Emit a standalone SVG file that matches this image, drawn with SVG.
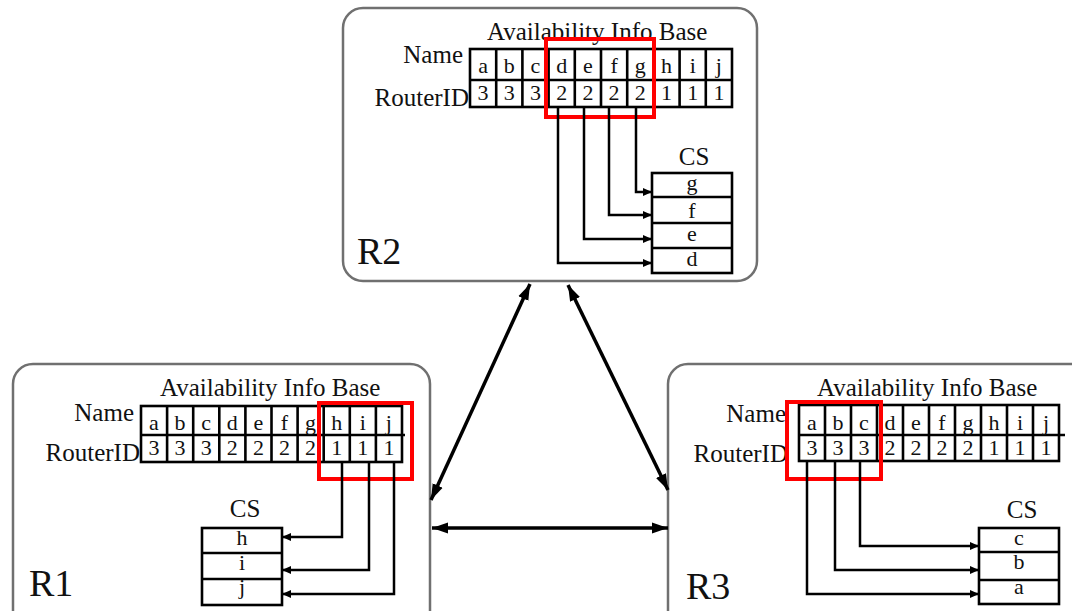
<svg xmlns="http://www.w3.org/2000/svg" width="1072" height="611" viewBox="0 0 1072 611">
  <style>
    text { font-family: "Liberation Serif", "Times New Roman", serif; fill: #111; }
    .t { font-size: 25px; }
    .c { font-size: 22px; text-anchor: middle; }
    .r { font-size: 25px; text-anchor: end; }
    .lbl { font-size: 38px; }
    .router { fill: #fff; stroke: #707070; stroke-width: 2.5; }
    .grid { fill: none; stroke: #000; stroke-width: 2.6; }
    .sel { fill: none; stroke: #ff0000; stroke-width: 4; }
    .wire { fill: none; stroke: #000; stroke-width: 2.5; marker-end: url(#tip); }
    .link { fill: none; stroke: #000; stroke-width: 3.5; marker-start: url(#bigtip); marker-end: url(#bigtip); }
  </style>
  <defs>
    <marker id="tip" markerUnits="userSpaceOnUse" markerWidth="10" markerHeight="10" refX="9" refY="5" orient="auto">
      <path d="M0,1 L9,5 L0,9 Z" fill="#000"/>
    </marker>
    <marker id="bigtip" markerUnits="userSpaceOnUse" markerWidth="17" markerHeight="12" refX="16" refY="6" orient="auto-start-reverse">
      <path d="M0,0.5 L16,6 L0,11.5 Z" fill="#000"/>
    </marker>
  </defs>
  <rect width="1072" height="611" fill="#fff"/>

  <!-- Router R2 -->
  <g id="R2">
    <rect class="router" x="343" y="8" width="414" height="273" rx="20"/>
    <text class="t" x="487" y="40">Availability Info Base</text>
    <text class="r" x="463" y="63">Name</text>
    <text class="r" x="469" y="106">RouterID</text>
    <rect class="grid" x="470" y="49" width="262" height="58"/>
    <path class="grid" d="M470,80 H732 M496.2,49 V107 M522.4,49 V107 M548.6,49 V107 M574.8,49 V107 M601,49 V107 M627.2,49 V107 M653.4,49 V107 M679.6,49 V107 M705.8,49 V107"/>
    <g class="c">
      <text x="483.1" y="73">a</text><text x="509.3" y="73">b</text><text x="535.5" y="73">c</text><text x="561.7" y="73">d</text><text x="587.9" y="73">e</text><text x="614.1" y="73">f</text><text x="640.3" y="73">g</text><text x="666.5" y="73">h</text><text x="692.7" y="73">i</text><text x="718.9" y="73">j</text>
      <text x="483.1" y="100">3</text><text x="509.3" y="100">3</text><text x="535.5" y="100">3</text><text x="561.7" y="100">2</text><text x="587.9" y="100">2</text><text x="614.1" y="100">2</text><text x="640.3" y="100">2</text><text x="666.5" y="100">1</text><text x="692.7" y="100">1</text><text x="718.9" y="100">1</text>
    </g>
    <rect class="sel" x="546" y="39" width="108" height="78"/>
    <text class="t" x="694" y="165" text-anchor="middle">CS</text>
    <rect class="grid" x="652" y="173" width="80" height="100"/>
    <path class="grid" d="M652,197 H732 M652,223 H732 M652,248 H732"/>
    <g class="c">
      <text x="692" y="190">g</text><text x="692" y="218">f</text><text x="692" y="241">e</text><text x="692" y="266">d</text>
    </g>
    <text class="lbl" x="357" y="264">R2</text>
  </g>

  <!-- Router R1 -->
  <g id="R1">
    <rect class="router" x="13" y="364" width="417" height="290" rx="20"/>
    <text class="t" x="160" y="396">Availability Info Base</text>
    <text class="r" x="134" y="421">Name</text>
    <text class="r" x="140" y="461">RouterID</text>
    <rect class="grid" x="141" y="406" width="261" height="56"/>
    <path class="grid" d="M141,435 H405 M167.1,406 V462 M193.2,406 V462 M219.3,406 V462 M245.4,406 V462 M271.5,406 V462 M297.6,406 V462 M323.7,406 V462 M349.8,406 V462 M375.9,406 V462"/>
    <g class="c">
      <text x="154" y="430">a</text><text x="180.1" y="430">b</text><text x="206.2" y="430">c</text><text x="232.3" y="430">d</text><text x="258.4" y="430">e</text><text x="284.5" y="430">f</text><text x="310.6" y="430">g</text><text x="336.7" y="430">h</text><text x="362.8" y="430">i</text><text x="388.9" y="430">j</text>
      <text x="154" y="455">3</text><text x="180.1" y="455">3</text><text x="206.2" y="455">3</text><text x="232.3" y="455">2</text><text x="258.4" y="455">2</text><text x="284.5" y="455">2</text><text x="310.6" y="455">2</text><text x="336.7" y="455">1</text><text x="362.8" y="455">1</text><text x="388.9" y="455">1</text>
    </g>
    <rect class="sel" x="319" y="403" width="93" height="76"/>
    <text class="t" x="245" y="517" text-anchor="middle">CS</text>
    <rect class="grid" x="202" y="528" width="80" height="77"/>
    <path class="grid" d="M202,553 H282 M202,579 H282"/>
    <g class="c">
      <text x="242" y="545">h</text><text x="242" y="570">i</text><text x="242" y="594">j</text>
    </g>
    <text class="lbl" x="29" y="596">R1</text>
  </g>

  <!-- Router R3 -->
  <g id="R3">
    <rect class="router" x="668" y="364" width="430" height="290" rx="20"/>
    <text class="t" x="817" y="396">Availability Info Base</text>
    <text class="r" x="786" y="422">Name</text>
    <text class="r" x="788" y="462">RouterID</text>
    <rect class="grid" x="799" y="405" width="260" height="56"/>
    <path class="grid" d="M799,435 H1065 M825,405 V461 M851,405 V461 M877,405 V461 M903,405 V461 M929,405 V461 M955,405 V461 M981,405 V461 M1007,405 V461 M1033,405 V461"/>
    <g class="c">
      <text x="812" y="430">a</text><text x="838" y="430">b</text><text x="864" y="430">c</text><text x="890" y="430">d</text><text x="916" y="430">e</text><text x="942" y="430">f</text><text x="968" y="430">g</text><text x="994" y="430">h</text><text x="1020" y="430">i</text><text x="1046" y="430">j</text>
      <text x="812" y="455">3</text><text x="838" y="455">3</text><text x="864" y="455">3</text><text x="890" y="455">2</text><text x="916" y="455">2</text><text x="942" y="455">2</text><text x="968" y="455">2</text><text x="994" y="455">1</text><text x="1020" y="455">1</text><text x="1046" y="455">1</text>
    </g>
    <rect class="sel" x="787" y="402" width="94" height="77"/>
    <text class="t" x="1022" y="518" text-anchor="middle">CS</text>
    <rect class="grid" x="979" y="528" width="80" height="76"/>
    <path class="grid" d="M979,552 H1059 M979,580 H1059"/>
    <g class="c">
      <text x="1019" y="545">c</text><text x="1019" y="569">b</text><text x="1019" y="594">a</text>
    </g>
    <text class="lbl" x="686" y="599">R3</text>
  </g>

  <!-- Connectors -->
  <g id="connectors">
    <path class="wire" d="M558,107 V263 H652"/>
    <path class="wire" d="M584,107 V239 H652"/>
    <path class="wire" d="M609,107 V215 H652"/>
    <path class="wire" d="M636,107 V192 H652"/>
    <path class="wire" d="M342,462 V537 H282"/>
    <path class="wire" d="M369,462 V570 H282"/>
    <path class="wire" d="M394,462 V594 H282"/>
    <path class="wire" d="M860,461 V546 H979"/>
    <path class="wire" d="M835,461 V570 H979"/>
    <path class="wire" d="M807,461 V594 H979"/>
    <path class="link" d="M530,284 L431,500"/>
    <path class="link" d="M568,285 L668,490"/>
    <path class="link" d="M432,528 L668,528"/>
  </g>
</svg>
